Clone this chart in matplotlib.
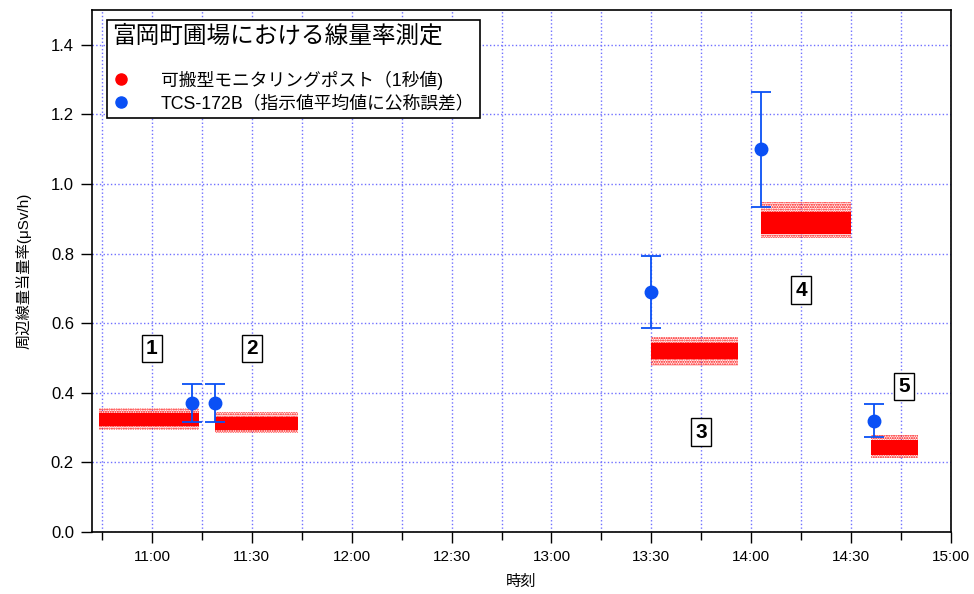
import matplotlib
matplotlib.use('Agg')
import matplotlib.pyplot as plt
import matplotlib.dates as mdates
from matplotlib.lines import Line2D
from datetime import datetime

plt.rcParams['font.family'] = ['Liberation Sans', 'Noto Sans CJK JP', 'DejaVu Sans']
plt.rcParams['hatch.linewidth'] = 1.0

def tm(s):
    return datetime.strptime('2012-01-01 ' + s, '%Y-%m-%d %H:%M')

# TCS-172B: mean of readings, error = nominal error
tcs_time = ['11:12', '11:19', '13:30', '14:03', '14:37']
tcs_val = [0.370, 0.370, 0.690, 1.100, 0.320]
tcs_err = [0.055, 0.055, 0.103, 0.165, 0.048]

# monitoring post (1 s values): the dot clouds, read as a dense core and a sparse outer band
mp_start = ['10:44', '11:19', '13:30', '14:03', '14:36']
mp_end = ['11:14', '11:44', '13:56', '14:30', '14:50']
mp_core_lo = [0.305, 0.293, 0.497, 0.857, 0.222]
mp_core_hi = [0.341, 0.330, 0.543, 0.920, 0.264]
mp_out_lo = [0.293, 0.284, 0.476, 0.844, 0.213]
mp_out_hi = [0.356, 0.345, 0.561, 0.949, 0.279]

box_label = ['1', '2', '3', '4', '5']
box_time = ['11:00', '11:30', '13:45', '14:15', '14:46']
box_val = [0.528, 0.528, 0.287, 0.695, 0.419]

fig = plt.figure(figsize=(9.74, 5.94), dpi=100)
ax = fig.add_axes([92 / 974, 62 / 594, 859 / 974, 522 / 594])

red = '#ff0000'
blue = '#0a50f5'

for t0, t1, clo, chi, olo, ohi in zip(mp_start, mp_end, mp_core_lo, mp_core_hi, mp_out_lo, mp_out_hi):
    x = [tm(t0), tm(t1)]
    ax.fill_between(x, olo, ohi, facecolor='none', edgecolor=red, hatch='.......',
                    linewidth=0, zorder=3)
    ax.fill_between(x, clo, chi, facecolor=red, linewidth=0, zorder=3)

ax.errorbar([tm(s) for s in tcs_time], tcs_val, yerr=tcs_err, fmt='o', color=blue,
            markersize=9, capsize=7, elinewidth=1.3, capthick=1.3, zorder=4)

for lab, t, v in zip(box_label, box_time, box_val):
    ax.text(tm(t), v, lab, ha='center', va='center', fontsize=15, fontweight='bold',
            bbox=dict(boxstyle='square,pad=0.2', facecolor='white', edgecolor='black', lw=1),
            zorder=5)

ax.set_xlim(tm('10:42'), tm('15:00'))
ax.set_ylim(0, 1.5)
ax.xaxis.set_major_locator(mdates.MinuteLocator(byminute=[0, 30]))
ax.xaxis.set_minor_locator(mdates.MinuteLocator(byminute=[15, 45]))
ax.xaxis.set_major_formatter(mdates.DateFormatter('%H:%M'))
ax.set_yticks([0.0, 0.2, 0.4, 0.6, 0.8, 1.0, 1.2, 1.4])
ax.yaxis.set_major_formatter(plt.FormatStrFormatter('%.1f'))

ax.grid(which='both', axis='x', color='#7070ff', linestyle=':', linewidth=1)
ax.grid(which='major', axis='y', color='#7070ff', linestyle=':', linewidth=1)
ax.set_axisbelow(True)

ax.tick_params(which='major', length=8, width=1)
ax.tick_params(which='minor', length=6, width=1)
ax.tick_params(axis='y', labelsize=12, pad=5)
ax.tick_params(axis='x', labelsize=11, pad=5)
for sp in ax.spines.values():
    sp.set_linewidth(1.2)

ax.set_xlabel('時刻', fontsize=11, labelpad=8)
ax.set_ylabel('周辺線量当量率(μSv/h)', fontsize=11, labelpad=14)

handles = [
    Line2D([], [], marker='o', linestyle='none', color=red, markersize=8),
    Line2D([], [], marker='o', linestyle='none', color=blue, markersize=8),
]
labels = ['可搬型モニタリングポスト（1秒値)', 'TCS-172B（指示値平均値に公称誤差）']
leg = ax.legend(handles, labels, title='富岡町圃場における線量率測定\n', title_fontsize=17,
                fontsize=12.8, loc='upper left', bbox_to_anchor=(0.017, 0.981),
                borderaxespad=0, fancybox=False, framealpha=1, edgecolor='black',
                alignment='left', handlelength=1.0, handletextpad=1.75,
                labelspacing=0.32, borderpad=0.3)
leg.get_title().set_linespacing(0.7)
leg.get_frame().set_linewidth(1.2)
leg.set_zorder(10)

fig.savefig('out.png', dpi=100)
